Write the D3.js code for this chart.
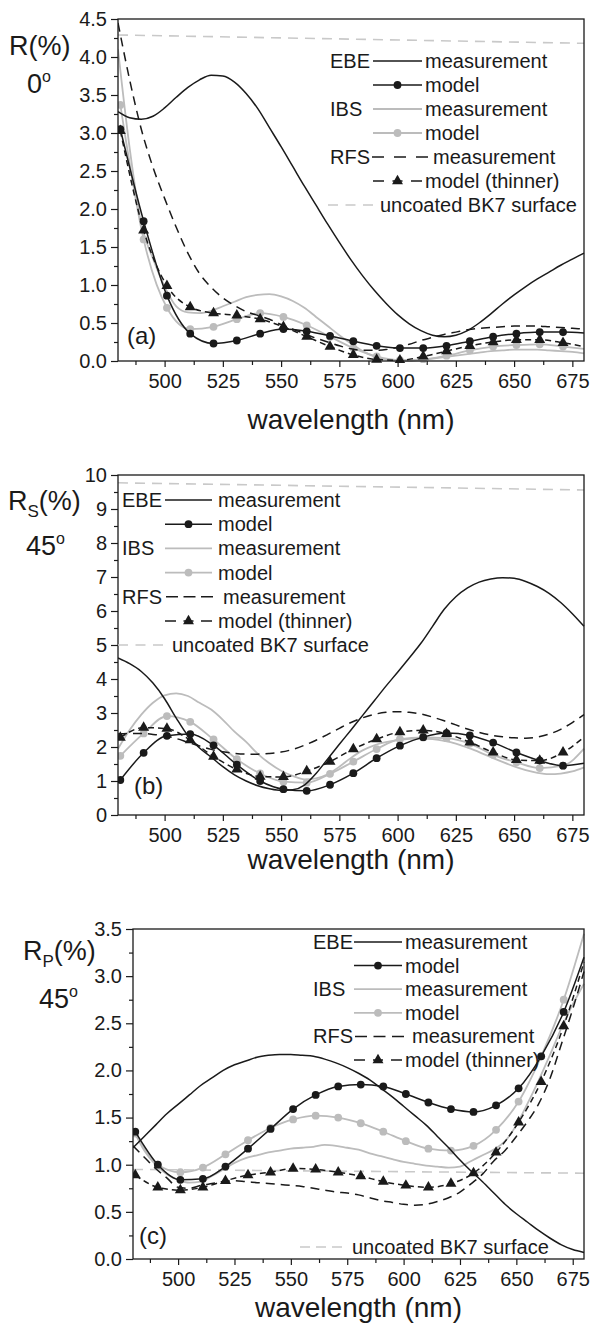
<!DOCTYPE html>
<html>
<head>
<meta charset="utf-8">
<script src="https://cdn.jsdelivr.net/npm/d3@7"></script>
<style>
  body { margin: 0; background: #fff; }
  svg text { font-family: "Liberation Sans", Arial, sans-serif; fill: #1a1a1a; }
</style>
</head>
<body>
<div class="canvas"></div>
<script>
// wavelength grids (nm)
const measWl = [480, 485, 490, 495, 500, 505, 510, 515, 520, 525, 530, 535, 540, 545, 550, 555, 560, 565, 570, 575,
  580, 585, 590, 595, 600, 605, 610, 615, 620, 625, 630, 635, 640, 645, 650, 655, 660, 665, 670, 675, 680];
const modelWl = [481, 491, 501, 511, 521, 531, 541, 551, 561, 571, 581, 591, 601, 611, 621, 631, 641, 651, 661, 671, 680];
const bk7Wl = [480, 680];

// (a) R at 0 deg
const aEbeMeas = [3.28, 3.2, 3.18, 3.22, 3.33, 3.47, 3.6, 3.7, 3.76, 3.75, 3.67, 3.52, 3.32, 3.07, 2.82, 2.56, 2.3, 2.05, 1.8, 1.56,
  1.33, 1.12, 0.93, 0.76, 0.61, 0.49, 0.4, 0.34, 0.32, 0.34, 0.4, 0.5, 0.62, 0.75, 0.87, 0.98, 1.08, 1.17, 1.26, 1.34, 1.42];
const aEbeModel = [3.05, 1.84, 0.86, 0.36, 0.23, 0.27, 0.36, 0.42, 0.39, 0.33, 0.26, 0.2, 0.17, 0.17, 0.2, 0.26, 0.32, 0.36, 0.38, 0.38, 0.37];
const aIbsMeas = [4.1, 2.8, 1.8, 1.35, 0.98, 0.72, 0.64, 0.63, 0.66, 0.72, 0.78, 0.84, 0.87, 0.88, 0.85, 0.79, 0.7, 0.58, 0.46, 0.34,
  0.23, 0.13, 0.06, 0.02, 0.0, 0.0, 0.01, 0.03, 0.05, 0.07, 0.09, 0.11, 0.13, 0.14, 0.15, 0.15, 0.15, 0.14, 0.13, 0.12, 0.1];
const aIbsModel = [3.37, 1.6, 0.7, 0.42, 0.45, 0.55, 0.63, 0.58, 0.47, 0.32, 0.17, 0.06, 0.01, 0.02, 0.07, 0.14, 0.19, 0.21, 0.22, 0.19, 0.16];
const aRfsMeas = [4.45, 3.7, 3.05, 2.55, 2.14, 1.76, 1.42, 1.15, 0.97, 0.83, 0.73, 0.65, 0.6, 0.55, 0.48, 0.42, 0.36, 0.3, 0.25, 0.2,
  0.16, 0.14, 0.14, 0.15, 0.18, 0.22, 0.27, 0.31, 0.35, 0.38, 0.41, 0.43, 0.44, 0.45, 0.46, 0.46, 0.46, 0.45, 0.44, 0.43, 0.42];
const aRfsModel = [3.03, 1.72, 0.99, 0.71, 0.63, 0.6, 0.55, 0.45, 0.32, 0.19, 0.08, 0.02, 0.01, 0.06, 0.13, 0.2, 0.25, 0.28, 0.28, 0.24, 0.19];
const aBk7 = [4.29, 4.18];

// (b) Rs at 45 deg
const bEbeMeas = [4.62, 4.45, 4.22, 3.88, 3.42, 2.85, 2.33, 1.97, 1.7, 1.42, 1.18, 1.0, 0.86, 0.77, 0.72, 0.74, 0.88, 1.22, 1.65, 2.08,
  2.5, 2.93, 3.36, 3.79, 4.2, 4.62, 5.05, 5.55, 6.05, 6.42, 6.68, 6.85, 6.94, 6.98, 6.96, 6.87, 6.72, 6.52, 6.25, 5.92, 5.55];
const bEbeModel = [1.03, 1.83, 2.33, 2.38, 2.05, 1.48, 1.0, 0.76, 0.71, 0.89, 1.23, 1.67, 2.04, 2.29, 2.41, 2.34, 2.13, 1.84, 1.6, 1.45, 1.52];
const bIbsMeas = [1.95, 2.5, 2.95, 3.3, 3.52, 3.58, 3.5, 3.3, 3.1, 2.8, 2.45, 2.15, 1.8, 1.52, 1.3, 1.15, 1.05, 1.08, 1.2, 1.42,
  1.68, 1.9, 2.05, 2.14, 2.2, 2.24, 2.25, 2.23, 2.18, 2.1, 1.98, 1.85, 1.7, 1.56, 1.43, 1.32, 1.24, 1.2, 1.22, 1.28, 1.4];
const bIbsModel = [1.74, 2.4, 2.91, 2.74, 2.22, 1.64, 1.22, 0.98, 0.95, 1.21, 1.57, 1.94, 2.23, 2.28, 2.26, 2.1, 1.77, 1.55, 1.38, 1.45, 1.95];
const bRfsMeas = [2.38, 2.4, 2.4, 2.37, 2.33, 2.25, 2.14, 2.03, 1.93, 1.86, 1.81, 1.79, 1.79, 1.81, 1.85, 1.93, 2.05, 2.2, 2.37, 2.55,
  2.72, 2.86, 2.96, 3.02, 3.04, 3.02, 2.97, 2.88, 2.77, 2.65, 2.53, 2.43, 2.35, 2.3, 2.27, 2.26, 2.29, 2.38, 2.52, 2.72, 2.95];
const bRfsModel = [2.28, 2.57, 2.54, 2.2, 1.72, 1.34, 1.13, 1.12, 1.29, 1.57, 1.94, 2.23, 2.44, 2.49, 2.39, 2.14, 1.84, 1.62, 1.6, 1.84, 2.29];
const bBk7 = [9.77, 9.56];

// (c) Rp at 45 deg
const cEbeMeas = [1.18, 1.3, 1.42, 1.54, 1.64, 1.74, 1.84, 1.92, 2.0, 2.06, 2.1, 2.14, 2.16, 2.17, 2.17, 2.16, 2.15, 2.12, 2.08, 2.03,
  1.97, 1.9, 1.81, 1.72, 1.62, 1.52, 1.42, 1.3, 1.18, 1.05, 0.93, 0.82, 0.7, 0.58, 0.48, 0.39, 0.3, 0.22, 0.15, 0.1, 0.07];
const cEbeModel = [1.35, 1.0, 0.84, 0.85, 0.98, 1.17, 1.38, 1.59, 1.74, 1.83, 1.85, 1.83, 1.75, 1.66, 1.59, 1.56, 1.63, 1.81, 2.15, 2.62, 3.2];
const cIbsMeas = [1.38, 1.15, 1.0, 0.9, 0.84, 0.81, 0.82, 0.88, 0.95, 1.02, 1.07, 1.1, 1.13, 1.15, 1.17, 1.18, 1.19, 1.21, 1.2, 1.18,
  1.16, 1.12, 1.09, 1.06, 1.03, 1.01, 0.99, 0.98, 0.97, 0.98, 1.04, 1.1, 1.16, 1.25, 1.42, 1.65, 1.9, 2.17, 2.45, 2.7, 2.92];
const cIbsModel = [1.33, 1.0, 0.92, 0.97, 1.11, 1.26, 1.39, 1.48, 1.52, 1.5, 1.44, 1.35, 1.25, 1.17, 1.15, 1.2, 1.37, 1.67, 2.15, 2.75, 3.45];
const cRfsMeas = [1.2, 1.08, 0.96, 0.86, 0.76, 0.75, 0.78, 0.8, 0.82, 0.83, 0.82, 0.81, 0.8, 0.79, 0.78, 0.77, 0.75, 0.73, 0.71, 0.7,
  0.68, 0.65, 0.62, 0.6, 0.58, 0.57, 0.58, 0.61, 0.65, 0.71, 0.8, 0.9, 1.04, 1.15, 1.3, 1.46, 1.65, 1.92, 2.28, 2.65, 3.05];
const cRfsModel = [0.89, 0.76, 0.73, 0.76, 0.83, 0.89, 0.92, 0.96, 0.95, 0.92, 0.88, 0.82, 0.78, 0.76, 0.8, 0.91, 1.13, 1.45, 1.88, 2.47, 3.15];
const cBk7 = [0.95, 0.91];

// ticks
const xTicks = [500, 525, 550, 575, 600, 625, 650, 675];
const xMinor = [487.5, 512.5, 537.5, 562.5, 587.5, 612.5, 637.5, 662.5];
const aTicks = [0, 0.5, 1, 1.5, 2, 2.5, 3, 3.5, 4, 4.5];
const aMinor = [0.25, 0.75, 1.25, 1.75, 2.25, 2.75, 3.25, 3.75, 4.25];
const bTicks = [0, 1, 2, 3, 4, 5, 6, 7, 8, 9, 10];
const bMinor = [0.5, 1.5, 2.5, 3.5, 4.5, 5.5, 6.5, 7.5, 8.5, 9.5];
const cTicks = [0, 0.5, 1, 1.5, 2, 2.5, 3, 3.5];
const cMinor = [0.25, 0.75, 1.25, 1.75, 2.25, 2.75, 3.25];

// legend text
const legendGroups = ["EBE", "IBS", "RFS"];
const legendLabels = ["measurement", "model", "measurement", "model", "measurement", "model (thinner)"];
const bk7Label = "uncoated BK7 surface";
const xTitle = "wavelength (nm)";

const BLACK = "#1a1a1a";
const GRAY = "#bcbcbc";

const styles = {
  bk7: { color: "#c9c9c9", width: 1.6, dash: "10,7" },
  ibsMeas: { color: GRAY, width: 1.8 },
  ibsModel: { color: GRAY, width: 1.8, marker: "circle" },
  ebeMeas: { color: BLACK, width: 1.5 },
  ebeModel: { color: BLACK, width: 1.5, marker: "circle" },
  rfsMeas: { color: BLACK, width: 1.5, dash: "9,6" },
  rfsModel: { color: BLACK, width: 1.5, dash: "6,4", marker: "triangle" },
};
const legendKeys = ["ebeMeas", "ebeModel", "ibsMeas", "ibsModel", "rfsMeas", "rfsModel"];

const panels = [
  {
    id: "a", left: 118, right: 584, top: 19, bottom: 361, yMax: 4.5,
    yTicks: aTicks, yMinor: aMinor, fmt: d3.format(".1f"),
    data: { bk7: aBk7, ibsMeas: aIbsMeas, ibsModel: aIbsModel, ebeMeas: aEbeMeas, ebeModel: aEbeModel, rfsMeas: aRfsMeas, rfsModel: aRfsModel },
    titleX: 9, titleY: 55, angle: { t: "0", x: 27, y: 93 },
    tag: { t: "(a)", x: 127, y: 344 }, xTitleY: 429,
    legend: { gx: 330, x1: 373, x2: 422, tx: 425, y0: 61, dy: 24, rfs: [372, 428, 433], bk7: { x1: 328, x2: 373, tx: 380, y: 205 } },
  },
  {
    id: "b", left: 118, right: 584, top: 475, bottom: 815, yMax: 10,
    yTicks: bTicks, yMinor: bMinor, fmt: d3.format("d"),
    data: { bk7: bBk7, ibsMeas: bIbsMeas, ibsModel: bIbsModel, ebeMeas: bEbeMeas, ebeModel: bEbeModel, rfsMeas: bRfsMeas, rfsModel: bRfsModel },
    sub: "S", titleX: 8, titleY: 510, angle: { t: "45", x: 26, y: 555 },
    tag: { t: "(b)", x: 134, y: 794 }, xTitleY: 869,
    legend: { gx: 122, x1: 165, x2: 212, tx: 218, y0: 500, dy: 24.2, rfs: [166, 213, 223], bk7: { x1: 118, x2: 163, tx: 172, y: 645 } },
  },
  {
    id: "c", left: 133, right: 584, top: 929, bottom: 1259, yMax: 3.5,
    yTicks: cTicks, yMinor: cMinor, fmt: d3.format(".1f"),
    data: { bk7: cBk7, ibsMeas: cIbsMeas, ibsModel: cIbsModel, ebeMeas: cEbeMeas, ebeModel: cEbeModel, rfsMeas: cRfsMeas, rfsModel: cRfsModel },
    sub: "P", titleX: 23, titleY: 960, angle: { t: "45", x: 39, y: 1008 },
    tag: { t: "(c)", x: 139, y: 1244 }, xTitleY: 1317,
    legend: { gx: 313, x1: 354, x2: 402, tx: 405, y0: 942, dy: 23.6, rfs: [355, 404, 412], bk7: { x1: 300, x2: 342, tx: 352, y: 1247 } },
  },
];

const svg = d3
  .select(".canvas")
  .append("svg")
  .attr("width", 591)
  .attr("height", 1331);

const drawOrder = ["bk7", "ibsMeas", "ibsModel", "ebeMeas", "ebeModel", "rfsMeas", "rfsModel"];

const addMarker = (sel, type, color) => {
  if (type === "circle") {
    sel.append("circle").attr("r", 3.9).attr("fill", color);
  } else {
    sel.append("path").attr("d", d3.symbol(d3.symbolTriangle, 52)()).attr("fill", color);
  }
};

// three equal dashes spread over a legend swatch
const threeDash = (len, d) => `${d},${(len - 3 * d) / 2}`;

panels.forEach((p) => {
  const x = d3.scaleLinear().domain([480, 680]).range([p.left, p.right]);
  const y = d3.scaleLinear().domain([0, p.yMax]).range([p.bottom, p.top]);
  const g = svg.append("g");

  g.append("clipPath")
    .attr("id", "clip-" + p.id)
    .append("rect")
    .attr("x", p.left)
    .attr("y", p.top - 2)
    .attr("width", p.right - p.left + 1)
    .attr("height", p.bottom - p.top + 4);

  // axes
  const styleAxis = (ax) => {
    ax.select(".domain").remove();
    ax.selectAll("line").attr("stroke", BLACK).attr("stroke-width", 1.2);
    ax.selectAll("text").attr("font-size", 20).attr("font-family", "Liberation Sans, Arial, sans-serif").attr("fill", BLACK);
  };
  g.append("g")
    .attr("transform", `translate(0,${p.bottom})`)
    .call(d3.axisBottom(x).tickValues(xTicks).tickSize(6).tickPadding(7).tickSizeOuter(0))
    .call(styleAxis);
  g.append("g")
    .attr("transform", `translate(0,${p.bottom})`)
    .call(d3.axisBottom(x).tickValues(xMinor).tickSize(4).tickFormat("").tickSizeOuter(0))
    .call(styleAxis);
  g.append("g")
    .attr("transform", `translate(${p.left},0)`)
    .call(d3.axisLeft(y).tickValues(p.yTicks).tickFormat(p.fmt).tickSize(7).tickPadding(4).tickSizeOuter(0))
    .call(styleAxis);
  g.append("g")
    .attr("transform", `translate(${p.left},0)`)
    .call(d3.axisLeft(y).tickValues(p.yMinor).tickSize(4).tickFormat("").tickSizeOuter(0))
    .call(styleAxis);

  // curves
  const plot = g.append("g").attr("clip-path", `url(#clip-${p.id})`);
  const line = d3
    .line()
    .x((d) => x(d.wl))
    .y((d) => y(d.v))
    .curve(d3.curveMonotoneX);

  drawOrder.forEach((key) => {
    const st = styles[key];
    const wl = key === "bk7" ? bk7Wl : key.endsWith("Model") ? modelWl : measWl;
    const pts = p.data[key].map((v, i) => ({ wl: wl[i], v }));
    plot.append("path")
      .attr("d", line(pts))
      .attr("fill", "none")
      .attr("stroke", st.color)
      .attr("stroke-width", st.width)
      .attr("stroke-dasharray", st.dash || null);
    if (st.marker) {
      plot.selectAll(null)
        .data(pts.filter((d) => d.wl % 10 === 1))
        .enter()
        .append("g")
        .attr("transform", (d) => `translate(${x(d.wl)},${y(d.v)})`)
        .each(function () {
          addMarker(d3.select(this), st.marker, st.color);
        });
    }
  });

  // frame
  g.append("rect")
    .attr("x", p.left)
    .attr("y", p.top)
    .attr("width", p.right - p.left)
    .attr("height", p.bottom - p.top)
    .attr("fill", "none")
    .attr("stroke", BLACK)
    .attr("stroke-width", 1.3);

  // legend
  const L = p.legend;
  const lg = g.append("g").attr("font-size", 20);
  legendKeys.forEach((key, i) => {
    const st = styles[key];
    const cy = L.y0 + i * L.dy;
    if (i % 2 === 0) {
      lg.append("text").attr("x", L.gx).attr("y", cy + 7).text(legendGroups[i / 2]);
    }
    const isRfsMeas = key === "rfsMeas";
    const x1 = isRfsMeas ? L.rfs[0] : L.x1;
    const x2 = isRfsMeas ? L.rfs[1] : L.x2;
    const len = x2 - x1;
    let dash = null;
    if (isRfsMeas) dash = threeDash(len, 12);
    if (key === "rfsModel") dash = `11,${(len - 32) / 2},10,${(len - 32) / 2},11`;
    lg.append("line")
      .attr("x1", x1).attr("x2", x2).attr("y1", cy).attr("y2", cy)
      .attr("stroke", st.color)
      .attr("stroke-width", st.width)
      .attr("stroke-dasharray", dash);
    if (st.marker) {
      const m = lg.append("g").attr("transform", `translate(${(x1 + x2) / 2},${cy})`);
      addMarker(m, st.marker, st.color);
    }
    lg.append("text")
      .attr("x", isRfsMeas ? L.rfs[2] : L.tx)
      .attr("y", cy + 7)
      .text(legendLabels[i]);
  });
  lg.append("line")
    .attr("x1", L.bk7.x1).attr("x2", L.bk7.x2).attr("y1", L.bk7.y).attr("y2", L.bk7.y)
    .attr("stroke", styles.bk7.color)
    .attr("stroke-width", styles.bk7.width)
    .attr("stroke-dasharray", threeDash(L.bk7.x2 - L.bk7.x1, 10));
  lg.append("text").attr("x", L.bk7.tx).attr("y", L.bk7.y + 7).text(bk7Label);

  // titles
  g.append("text")
    .attr("x", (p.left + p.right) / 2)
    .attr("y", p.xTitleY)
    .attr("text-anchor", "middle")
    .attr("font-size", 28)
    .text(xTitle);

  const yt = g.append("text").attr("font-size", 27).attr("x", p.titleX).attr("y", p.titleY);
  yt.append("tspan").text("R");
  if (p.sub) {
    yt.append("tspan").attr("font-size", 17).attr("dy", 7).text(p.sub);
    yt.append("tspan").attr("dy", -7).text("(%)");
  } else {
    yt.append("tspan").text("(%)");
  }
  const at = g.append("text").attr("font-size", 27).attr("x", p.angle.x).attr("y", p.angle.y);
  at.append("tspan").text(p.angle.t);
  at.append("tspan").attr("font-size", 16).attr("dy", -11).text("o");

  g.append("text")
    .attr("x", p.tag.x)
    .attr("y", p.tag.y)
    .attr("font-size", 24)
    .text(p.tag.t);
});
</script>
</body>
</html>
